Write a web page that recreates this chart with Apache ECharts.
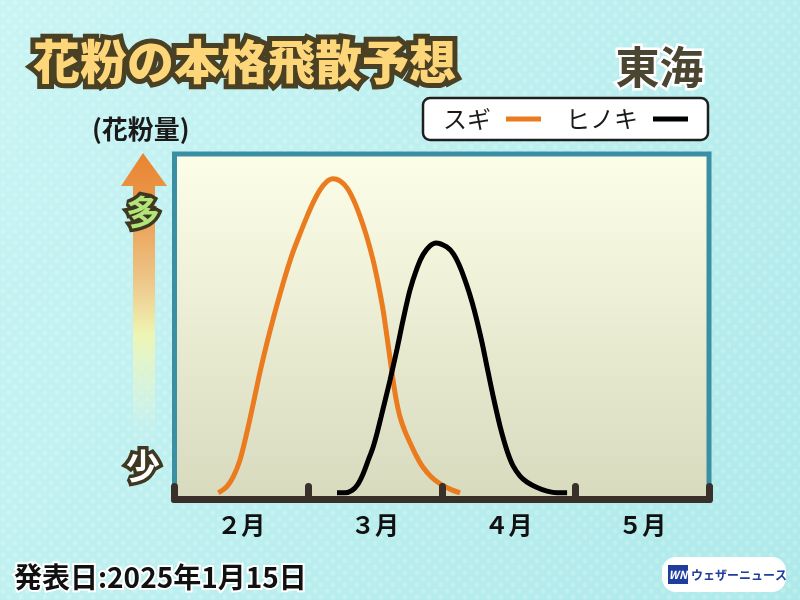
<!DOCTYPE html>
<html><head><meta charset="utf-8">
<script src="https://cdn.jsdelivr.net/npm/echarts@6/dist/echarts.min.js"></script>
<style>html,body{margin:0;padding:0;}#c{width:800px;height:600px;}</style>
</head><body><div id="c"></div>
<script>
// ---- data ----
var monthLabels = ['２月', '３月', '４月', '５月'];
var seriesNames = ['スギ', 'ヒノキ'];
// x in months from Feb 1 (0) to end of May (4); y = relative pollen amount
var sugiX = [0.328, 0.391, 0.440, 0.490, 0.540, 0.590, 0.640, 0.690, 0.740, 0.790, 0.838, 0.887, 0.939, 0.992, 1.040, 1.089, 1.138, 1.186, 1.238, 1.291, 1.340, 1.388, 1.437, 1.486, 1.523, 1.561, 1.583, 1.606, 1.632, 1.658, 1.688, 1.725, 1.763, 1.811, 1.860, 1.920, 1.987, 2.062, 2.137];
var sugiY = [0, 1.8, 4.8, 9.8, 17.7, 26.7, 36.0, 44.4, 52.1, 59.3, 65.8, 71.8, 77.2, 82.4, 86.7, 90.3, 92.7, 93.6, 93.0, 90.9, 87.3, 82.5, 76.6, 69.4, 62.6, 54.5, 48.5, 42.0, 34.5, 28.0, 22.6, 18.3, 14.9, 10.9, 7.6, 4.8, 2.7, 1.1, 0];
var hinokiX = [1.216, 1.276, 1.329, 1.373, 1.411, 1.448, 1.486, 1.516, 1.546, 1.579, 1.613, 1.665, 1.710, 1.762, 1.815, 1.860, 1.912, 1.957, 2.037, 2.087, 2.137, 2.187, 2.227, 2.264, 2.302, 2.339, 2.384, 2.436, 2.489, 2.534, 2.586, 2.638, 2.713, 2.788, 2.863, 2.938];
var hinokiY = [0, 0, 0.7, 2.6, 5.6, 9.5, 13.6, 17.8, 22.6, 28.0, 33.6, 42.8, 51.4, 60.4, 67.0, 71.0, 73.6, 74.5, 73.3, 71.2, 67.3, 61.9, 56.8, 51.2, 44.7, 37.5, 28.9, 19.9, 12.5, 8.0, 5.0, 3.2, 1.6, 0.5, 0, 0];

function pairs(xs, ys) { return xs.map(function (x, i) { return [x, ys[i]]; }); }

var FONT = '"Noto Sans CJK JP", "Noto Sans", sans-serif';
var chart = echarts.init(document.getElementById('c'), null, { renderer: 'canvas' });
var G = echarts.graphic;

// subtle halftone dot texture for the background
var dotCanvas = document.createElement('canvas');
dotCanvas.width = 12; dotCanvas.height = 12;
(function () {
  var ctx = dotCanvas.getContext('2d');
  ctx.fillStyle = 'rgba(255,255,255,0.55)';
  ctx.beginPath(); ctx.arc(3, 3, 2.4, 0, Math.PI * 2); ctx.fill();
  ctx.beginPath(); ctx.arc(9, 9, 2.4, 0, Math.PI * 2); ctx.fill();
})();
var dotPattern = { image: dotCanvas, repeat: 'repeat' };

var option = {
  animation: false,
  backgroundColor: new G.LinearGradient(0, 0, 1, 1, [
    { offset: 0, color: '#c9f4f4' },
    { offset: 0.5, color: '#bcefef' },
    { offset: 1, color: '#aee9ea' }
  ]),
  grid: {
    left: 174.5, right: 91, top: 154, bottom: 100.5,
    show: true, z: 1,
    borderColor: '#3a8fa4', borderWidth: 5,
    backgroundColor: new G.LinearGradient(0, 0, 0, 1, [
      { offset: 0, color: '#fdfee8' },
      { offset: 1, color: '#d7dabd' }
    ])
  },
  legend: {
    data: seriesNames,
    left: 423, top: 98,
    align: 'right',
    itemWidth: 35, itemHeight: 5, itemGap: 25,
    icon: 'rect',
    padding: [9, 20, 9, 20],
    backgroundColor: '#ffffff', borderColor: '#1e1e1e', borderWidth: 2.5, borderRadius: 7,
    selectedMode: false,
    textStyle: { fontSize: 24, color: '#1a1a1a', fontFamily: FONT, padding: [0, 10, 0, 0] }
  },
  xAxis: [
    { type: 'value', min: 0, max: 4, show: false },
    {
      type: 'category', data: monthLabels, boundaryGap: true, position: 'bottom', z: 5,
      axisLine: { show: true, lineStyle: { color: '#3a302a', width: 7, cap: 'round' } },
      axisTick: { show: true, inside: true, length: 13, lineStyle: { color: '#3a302a', width: 7, cap: 'round' } },
      axisLabel: { margin: 13, fontSize: 24, fontWeight: 'bold', color: '#111', fontFamily: FONT }
    }
  ],
  yAxis: { type: 'value', min: -2, max: 101, show: false },
  series: [
    { name: seriesNames[0], type: 'line', xAxisIndex: 0, data: pairs(sugiX, sugiY), smooth: 0.3, showSymbol: false, z: 3,
      lineStyle: { color: '#ea7b1e', width: 5 }, itemStyle: { color: '#ea7b1e' } },
    { name: seriesNames[1], type: 'line', xAxisIndex: 0, data: pairs(hinokiX, hinokiY), smooth: 0.3, showSymbol: false, z: 3,
      lineStyle: { color: '#000000', width: 5 }, itemStyle: { color: '#000000' } }
  ],
  graphic: [
    { type: 'rect', z: -1, shape: { x: 0, y: 0, width: 800, height: 600 }, style: { fill: dotPattern, opacity: 0.35 } },
    { type: 'text', left: 28, top: 33, z: 10,
      style: { text: '花粉の本格飛散予想', font: '900 47px ' + FONT, fill: '#fdd67a',
        stroke: '#4a4024', lineWidth: 10, lineJoin: 'round',
        shadowColor: '#4a4024', shadowOffsetX: 2, shadowOffsetY: 3, shadowBlur: 0 } },
    { type: 'text', left: 613, top: 43, z: 10,
      style: { text: '東海', font: 'bold 44px ' + FONT, fill: '#4a4632', stroke: '#ffffff', lineWidth: 5, lineJoin: 'round' } },
    { type: 'text', left: 92, top: 116, z: 10,
      style: { text: '(花粉量)', font: 'bold 26px ' + FONT, fill: '#1a1a1a' } },
    { type: 'polygon', z: 5,
      shape: { points: [[143, 153], [167, 186], [155, 186], [155, 446], [133, 446], [133, 186], [121, 186]] },
      style: { fill: new G.LinearGradient(0, 0, 0, 1, [
        { offset: 0, color: '#e8832f' },
        { offset: 0.2, color: '#eb9c52' },
        { offset: 0.45, color: '#eec98c' },
        { offset: 0.62, color: '#eef5b4' },
        { offset: 0.85, color: 'rgba(225,245,215,0.5)' },
        { offset: 1, color: 'rgba(200,240,235,0)' }
      ]) } },
    { type: 'text', x: 143, y: 212, z: 10,
      style: { text: '多', font: 'bold 34px ' + FONT, align: 'center', verticalAlign: 'middle',
        fill: '#b2e47a', stroke: '#3e3821', lineWidth: 7, lineJoin: 'round' } },
    { type: 'text', x: 143, y: 466, z: 10,
      style: { text: '少', font: 'bold 34px ' + FONT, align: 'center', verticalAlign: 'middle',
        fill: '#ffffff', stroke: '#3e3821', lineWidth: 7, lineJoin: 'round' } },
    { type: 'text', left: 12, top: 561, z: 10,
      style: { text: '発表日:2025年1月15日', font: 'bold 28px ' + FONT, fill: '#111', stroke: '#ffffff', lineWidth: 4, lineJoin: 'round' } },
    { type: 'group', z: 10, children: [
      { type: 'rect', shape: { x: 662, y: 557, width: 124, height: 35, r: 14 }, style: { fill: '#ffffff' } },
      { type: 'rect', shape: { x: 668, y: 565, width: 20, height: 19 }, style: { fill: '#1e3d9c' } },
      { type: 'text', x: 678, y: 575, style: { text: 'WN', font: 'italic bold 11px ' + FONT, fill: '#fff', align: 'center', verticalAlign: 'middle' } },
      { type: 'text', x: 691, y: 575, style: { text: 'ウェザーニュース', font: 'bold 12px ' + FONT, fill: '#1e3d9c', verticalAlign: 'middle' } }
    ] }
  ]
};
chart.setOption(option);
</script>
</body></html>
